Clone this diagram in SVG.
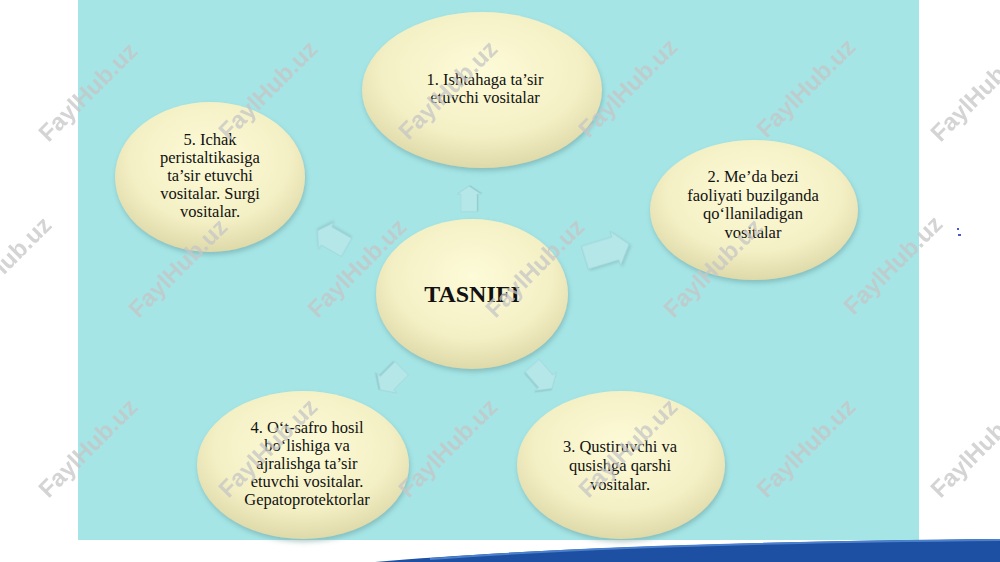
<svg xmlns="http://www.w3.org/2000/svg" width="1000" height="562" viewBox="0 0 1000 562">
<defs>
<style>
.t{font-family:"Liberation Serif","Times New Roman",serif;font-size:16.5px;fill:#111;text-anchor:middle}
.tb{font-family:"Liberation Serif","Times New Roman",serif;font-size:24px;font-weight:bold;fill:#111;text-anchor:middle}
.node ellipse{fill:url(#eg);filter:url(#sh)}
.arr{fill:#b5e7e9;stroke:#9ccfd2;stroke-width:0.5;filter:url(#ash)}
.wm{font-family:"Liberation Sans",Arial,sans-serif;font-size:24px;font-weight:bold;fill:#c6c6c6;opacity:0.75;text-anchor:middle}
</style>
<radialGradient id="eg" cx="50%" cy="38%" r="64%">
<stop offset="0" stop-color="#fdfbd8"/>
<stop offset="0.65" stop-color="#f4f0c5"/>
<stop offset="1" stop-color="#dcd7a6"/>
</radialGradient>
<filter id="sh" x="-20%" y="-20%" width="140%" height="150%">
<feDropShadow dx="1" dy="3" stdDeviation="2.5" flood-color="#5f8f8f" flood-opacity="0.45"/>
</filter>
<filter id="ash" x="-30%" y="-30%" width="160%" height="160%">
<feDropShadow dx="1" dy="1.5" stdDeviation="0.8" flood-color="#7fb3b6" flood-opacity="0.5"/>
</filter>
<path id="ap" d="M-16,-10 L6,-10 L6,-15 L16,0 L6,15 L6,10 L-16,10 Z"/>
</defs>
<rect width="1000" height="562" fill="#ffffff"/>
<rect x="78" y="0" width="841" height="540" fill="#a5e5e6"/>
<g id="swoosh">
<path d="M375,562 C520,549 760,541 1000,539 L1000,562 Z" fill="#1d4fa3"/>
<path d="M430,559 C560,549 770,542 1000,540" fill="none" stroke="#4a80cc" stroke-width="2"/>
</g>
<g id="connectors">
<use href="#ap" class="arr" transform="translate(469,199) rotate(-90) scale(0.8)"/>
<use href="#ap" class="arr" transform="translate(607,251) rotate(-17) scale(1.45 1.2)"/>
<use href="#ap" class="arr" transform="translate(542,377) rotate(49) scale(0.95)"/>
<use href="#ap" class="arr" transform="translate(391,379) rotate(135) scale(0.95)"/>
<use href="#ap" class="arr" transform="translate(332,239) rotate(-150) scale(1.05)"/>
</g>
<g id="node-center" class="node">
<ellipse cx="472" cy="294" rx="96" ry="75"/>
<text class="tb" x="472" y="302">TASNIFI</text>
</g>
<g id="node-1" class="node">
<ellipse cx="482" cy="90" rx="120" ry="78"/>
<text class="t" x="485" y="85">1. Ishtahaga ta’sir</text>
<text class="t" x="485" y="103">etuvchi vositalar</text>
</g>
<g id="node-2" class="node">
<ellipse cx="754" cy="210" rx="104" ry="70"/>
<text class="t" x="753" y="182">2. Me’da bezi</text>
<text class="t" x="753" y="201">faoliyati buzilganda</text>
<text class="t" x="753" y="219">qo‘llaniladigan</text>
<text class="t" x="753" y="238">vositalar</text>
</g>
<g id="node-3" class="node">
<ellipse cx="621" cy="465" rx="104" ry="74"/>
<text class="t" x="620" y="452">3. Qustiruvchi va</text>
<text class="t" x="620" y="471">qusishga qarshi</text>
<text class="t" x="620" y="490">vositalar.</text>
</g>
<g id="node-4" class="node">
<ellipse cx="303" cy="465" rx="106" ry="74"/>
<text class="t" x="307" y="433">4. O‘t-safro hosil</text>
<text class="t" x="307" y="451">bo‘lishiga va</text>
<text class="t" x="307" y="469">ajralishga ta’sir</text>
<text class="t" x="307" y="487">etuvchi vositalar.</text>
<text class="t" x="307" y="505">Gepatoprotektorlar</text>
</g>
<g id="node-5" class="node">
<ellipse cx="210" cy="177" rx="95" ry="75"/>
<text class="t" x="210" y="145">5. Ichak</text>
<text class="t" x="210" y="163">peristaltikasiga</text>
<text class="t" x="210" y="181">ta’sir etuvchi</text>
<text class="t" x="210" y="199">vositalar. Surgi</text>
<text class="t" x="210" y="217">vositalar.</text>
</g>
<rect x="957" y="228" width="2" height="2" fill="#4a5ac8"/>
<rect x="958" y="234" width="3" height="2" fill="#4a5ac8"/>
<g id="watermarks">
<text class="wm" transform="translate(88,92) rotate(-45)" y="8">FaylHub.uz</text>
<text class="wm" transform="translate(268,90) rotate(-45)" y="8">FaylHub.uz</text>
<text class="wm" transform="translate(448,90) rotate(-45)" y="8">FaylHub.uz</text>
<text class="wm" transform="translate(628,88) rotate(-45)" y="8">FaylHub.uz</text>
<text class="wm" transform="translate(806,88) rotate(-45)" y="8">FaylHub.uz</text>
<text class="wm" transform="translate(980,92) rotate(-45)" y="8">FaylHub.uz</text>
<text class="wm" transform="translate(2,266) rotate(-45)" y="8">FaylHub.uz</text>
<text class="wm" transform="translate(178,268) rotate(-45)" y="8">FaylHub.uz</text>
<text class="wm" transform="translate(357,268) rotate(-45)" y="8">FaylHub.uz</text>
<text class="wm" transform="translate(535,268) rotate(-45)" y="8">FaylHub.uz</text>
<text class="wm" transform="translate(713,268) rotate(-45)" y="8">FaylHub.uz</text>
<text class="wm" transform="translate(893,265) rotate(-45)" y="8">FaylHub.uz</text>
<text class="wm" transform="translate(88,448) rotate(-45)" y="8">FaylHub.uz</text>
<text class="wm" transform="translate(268,448) rotate(-45)" y="8">FaylHub.uz</text>
<text class="wm" transform="translate(448,448) rotate(-45)" y="8">FaylHub.uz</text>
<text class="wm" transform="translate(628,448) rotate(-45)" y="8">FaylHub.uz</text>
<text class="wm" transform="translate(806,448) rotate(-45)" y="8">FaylHub.uz</text>
<text class="wm" transform="translate(980,448) rotate(-45)" y="8">FaylHub.uz</text>
</g>
</svg>
